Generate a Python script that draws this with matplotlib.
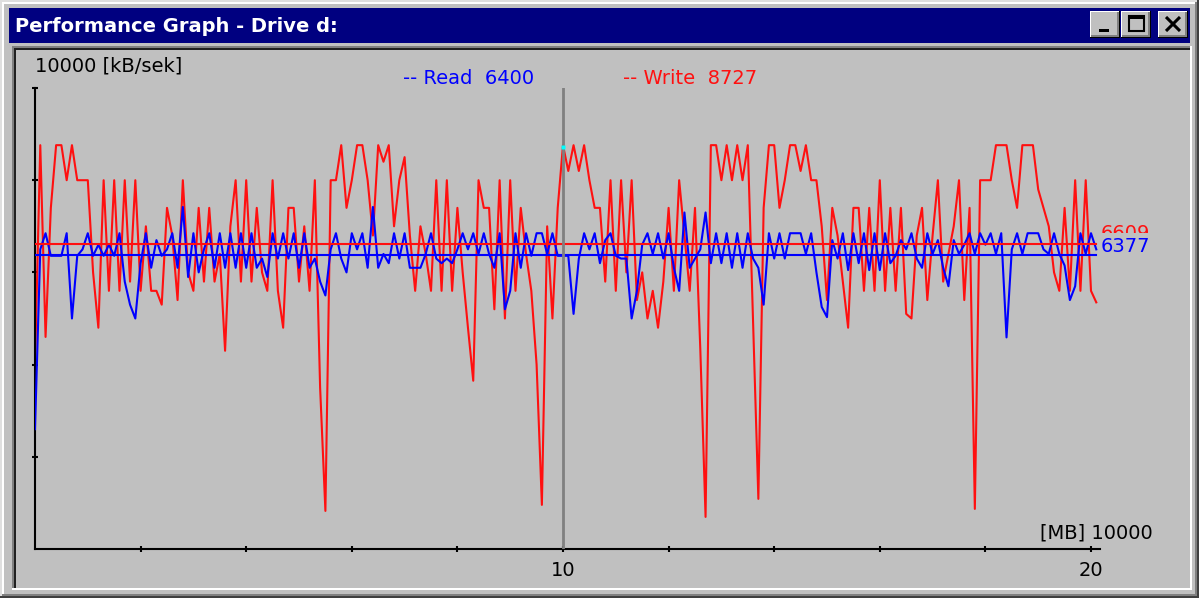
import numpy as np
import matplotlib
matplotlib.use("Agg")
import matplotlib.pyplot as plt
from matplotlib.patches import Rectangle

plt.rcParams["font.family"] = ["DejaVu Sans"]

W, H = 1199, 598
FACE = "#C0C0C0"
NAVY = "#000080"
RED = "#FF1010"
BLUE = "#0000FF"

STEP = 0.1  # one sample per 100 MB

write_kbs = [
    4000, 8760, 4600, 7400, 8760, 8760, 8000, 8760, 8000, 8000,
    8000, 6000, 4800, 8000, 5600, 8000, 5600, 8000, 5800, 8000,
    5600, 7000, 5600, 5600, 5300, 7400, 6800, 5400, 8000, 6000,
    5600, 7400, 5800, 7400, 5800, 6400, 4300, 7000, 8000, 5800,
    8000, 5800, 7400, 6000, 5600, 8000, 5600, 4800, 7400, 7400,
    5800, 7000, 5600, 8000, 3500, 826, 8000, 8000, 8760, 7400,
    8000, 8760, 8760, 8000, 6800, 8760, 8400, 8760, 7000, 8000,
    8500, 6800, 5600, 7000, 6400, 5600, 8000, 5600, 8000, 5600,
    7400, 6000, 4800, 3650, 8000, 7400, 7400, 5200, 8000, 5000,
    8000, 5600, 7400, 6400, 5600, 4000, 957, 7000, 5000, 7400,
    8760, 8200, 8760, 8200, 8760, 8000, 7400, 7400, 5800, 8000,
    5600, 8000, 6000, 8000, 5400, 6000, 5000, 5600, 4800, 5800,
    7400, 5600, 8000, 6800, 5600, 7400, 4350, 696, 8760, 8760,
    8000, 8760, 8000, 8760, 8000, 8760, 4900, 1087, 7400, 8760,
    8760, 7400, 8000, 8760, 8760, 8200, 8760, 8000, 8000, 7000,
    5400, 7400, 6800, 5800, 4800, 7400, 7400, 5600, 7400, 5600,
    8000, 5600, 7400, 5600, 7400, 5100, 5000, 6800, 7400, 5400,
    6800, 8000, 5800, 6400, 7000, 8000, 5400, 7400, 870, 8000,
    8000, 8000, 8760, 8760, 8760, 8000, 7400, 8760, 8760, 8760,
    7800, 7400, 7000, 6000, 5600, 7400, 5600, 8000, 5600, 8000,
    5600, 5350,
]

read_kbs = [
    2600, 6500, 6850, 6360, 6360, 6360, 6850, 5000, 6360, 6500,
    6850, 6360, 6600, 6360, 6600, 6360, 6850, 5800, 5300, 5000,
    6200, 6850, 6100, 6700, 6360, 6500, 6850, 6100, 7420, 5900,
    6850, 6000, 6500, 6850, 6100, 6850, 6100, 6850, 6100, 6850,
    6100, 6850, 6100, 6300, 5900, 6850, 6300, 6850, 6300, 6850,
    6100, 6850, 6100, 6300, 5800, 5500, 6500, 6850, 6300, 6000,
    6850, 6500, 6850, 6100, 7420, 6100, 6400, 6200, 6850, 6300,
    6850, 6100, 6100, 6100, 6400, 6850, 6300, 6200, 6300, 6200,
    6500, 6850, 6500, 6850, 6400, 6850, 6400, 6100, 6850, 5200,
    5600, 6850, 6100, 6850, 6360, 6850, 6850, 6400, 6850, 6360,
    6360, 6360, 5100, 6300, 6850, 6500, 6850, 6200, 6700, 6850,
    6360, 6300, 6300, 5000, 5600, 6600, 6850, 6400, 6850, 6300,
    6850, 6100, 5600, 7300, 6100, 6300, 6500, 7300, 6200, 6850,
    6200, 6850, 6100, 6850, 6100, 6850, 6300, 6100, 5300, 6850,
    6300, 6850, 6300, 6850, 6850, 6850, 6400, 6850, 6000, 5250,
    5030, 6700, 6300, 6850, 6050, 6850, 6200, 6850, 6050, 6850,
    6050, 6850, 6200, 6360, 6700, 6500, 6850, 6300, 6100, 6850,
    6400, 6700, 6100, 5700, 6700, 6400, 6600, 6850, 6400, 6850,
    6600, 6850, 6400, 6850, 4590, 6500, 6850, 6400, 6850, 6850,
    6850, 6500, 6400, 6850, 6400, 6150, 5400, 5700, 6850, 6400,
    6850, 6500,
]

write_avg = 6609
read_avg = 6377
read_now = 6400
write_max = 8727
cursor_pos = 10

x_ticks = [2, 4, 6, 8, 10, 12, 14, 16, 18, 20]
x_labels = ["", "", "", "", "10", "", "", "", "", "20"]
y_ticks = [2000, 4000, 6000, 8000, 10000]

x = np.arange(len(write_kbs)) * STEP

fig = plt.figure(figsize=(W / 100, H / 100), dpi=100)

# window chrome, drawn in pixel coordinates
bg = fig.add_axes([0, 0, 1, 1])
bg.set_xlim(0, W)
bg.set_ylim(H, 0)
bg.axis("off")


def rect(axis, x0, y0, x1, y1, color, z=1):
    axis.add_patch(Rectangle((x0, y0), x1 - x0, y1 - y0, facecolor=color,
                             edgecolor="none", lw=0, zorder=z))


rect(bg, 0, 0, W, H, FACE)
rect(bg, 0, 0, W, 2, "#DFDFDF")
rect(bg, 0, 0, 2, H, "#DFDFDF")
rect(bg, 2, 2, W - 2, 4, "white")
rect(bg, 2, 2, 4, H - 2, "white")
rect(bg, W - 2, 0, W, H, "#404040")
rect(bg, 0, H - 2, W, H, "#404040")
rect(bg, W - 4, 2, W - 2, H - 2, "#808080")
rect(bg, 2, H - 4, W - 2, H - 2, "#808080")

rect(bg, 9, 8, 1190, 43, NAVY)
bg.text(15, 26, "Performance Graph - Drive d:", color="white", fontsize=14,
        fontweight="bold", va="center", ha="left")


def button(x0, y0, x1, y1):
    rect(bg, x0, y0, x1, y1, "black")
    rect(bg, x0, y0, x1 - 1, y1 - 1, "white")
    rect(bg, x0 + 1, y0 + 1, x1 - 1, y1 - 1, "#808080")
    rect(bg, x0 + 1, y0 + 1, x1 - 3, y1 - 3, FACE)


button(1090, 11, 1120, 38)
button(1121, 11, 1151, 38)
button(1158, 11, 1188, 38)
rect(bg, 1099, 29, 1109, 32, "black")
bg.add_patch(Rectangle((1129, 16), 15, 15, facecolor="none", edgecolor="black", lw=1.5))
rect(bg, 1129, 16, 1144, 19, "black")
bg.plot([1166, 1180], [17, 31], color="black", lw=2.2, solid_capstyle="butt")
bg.plot([1166, 1180], [31, 17], color="black", lw=2.2, solid_capstyle="butt")

# sunken client area
rect(bg, 12, 46, 1192, 48, "#808080")
rect(bg, 12, 46, 14, 590, "#808080")
rect(bg, 14, 48, 1190, 50, "#202020")
rect(bg, 14, 48, 16, 588, "#202020")
rect(bg, 12, 588, 1192, 590, "white")
rect(bg, 1190, 46, 1192, 590, "white")

# graph
X0, X1, Y0, Y1 = 35, 1100, 88, 549
PX_PER_UNIT = 52.8
ax = fig.add_axes([X0 / W, (H - Y1) / H, (X1 - X0) / W, (Y1 - Y0) / H])
ax.patch.set_alpha(0)
ax.set_xlim(0, (X1 - X0) / PX_PER_UNIT)
ax.set_ylim(0, 10000)

ax.plot(x, write_kbs, color=RED, lw=1.5, zorder=2)
ax.plot(x, read_kbs, color=BLUE, lw=1.5, zorder=3)
ax.plot([x[0], x[-1]], [write_avg, write_avg], color=RED, lw=1.5, zorder=4)
ax.plot([x[0], x[-1]], [read_avg, read_avg], color=BLUE, lw=1.5, zorder=5)
ax.axvline(cursor_pos, color="#808080", lw=2, zorder=6)
ax.plot([cursor_pos], [write_max], "s", color="cyan", ms=2.5, mec="none", zorder=7)

for s in ["top", "right"]:
    ax.spines[s].set_visible(False)
for s in ["left", "bottom"]:
    ax.spines[s].set_color("black")
    ax.spines[s].set_linewidth(1.5)
ax.set_xticks(x_ticks)
ax.set_xticklabels(x_labels)
ax.set_yticks(y_ticks)
ax.set_yticklabels([])
ax.tick_params(direction="inout", length=5, width=1.5, color="black",
               labelsize=14, pad=6)

# labels on top of everything
top = fig.add_axes([0, 0, 1, 1], zorder=10)
top.set_xlim(0, W)
top.set_ylim(H, 0)
top.axis("off")
top.patch.set_alpha(0)

top.text(35, 66, "10000 [kB/sek]", fontsize=14, ha="left", va="center", color="black")
top.text(1153, 533, "[MB] 10000", fontsize=14, ha="right", va="center", color="black")
top.text(403, 78, f"-- Read  {read_now}", fontsize=14, ha="left", va="center", color=BLUE)
top.text(623, 78, f"-- Write  {write_max}", fontsize=14, ha="left", va="center", color=RED)

# average labels: the read label box hides most of the write label
top.text(1101, 224, f"{write_avg}", fontsize=14, ha="left", va="top", color=RED, zorder=2)
rect(top, 1099, 233, 1160, 262, FACE, z=3)
top.text(1101, 247, f"{read_avg}", fontsize=14, ha="left", va="center", color=BLUE, zorder=4)

fig.savefig("out.png", dpi=100)
